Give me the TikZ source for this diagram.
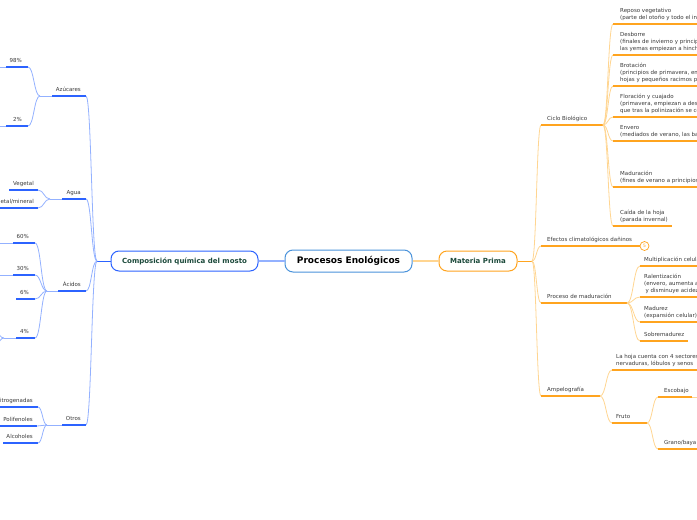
\documentclass[tikz,border=0pt]{standalone}
\usepackage{fontspec}
\setmainfont{DejaVu Sans}
\usetikzlibrary{calc}
\definecolor{bdark}{HTML}{2C63FF}
\definecolor{blight}{HTML}{93B1FF}
\definecolor{odark}{HTML}{FFA41F}
\definecolor{olight}{HTML}{FFD591}
\definecolor{txtgray}{HTML}{3A3A3A}
\definecolor{dgreen}{HTML}{1C4A3B}
\definecolor{cblue}{HTML}{4A93DB}
\begin{document}
\begin{tikzpicture}[x=1pt,y=-1pt,
  conn/.style={to path={.. controls ($(\tikztostart)!0.5!(\tikztotarget |- \tikztostart)$) and ($(\tikztotarget)!0.5!(\tikztostart |- \tikztotarget)$) .. (\tikztotarget)}},
  bl/.style={blight,line width=0.8pt},
  bu/.style={bdark,line width=1.7pt},
  ol/.style={olight,line width=0.8pt},
  ou/.style={odark,line width=1.7pt},
  lt/.style={font=\fontsize{5.5}{7}\selectfont, text=txtgray, inner sep=0pt, align=right, anchor=south east, yshift=2.4pt},
  rt/.style={font=\fontsize{5.5}{7}\selectfont, text=txtgray, inner sep=0pt, align=left, anchor=south west, yshift=2.4pt},
  mainbox/.style={rounded corners=8pt, line width=1pt, fill=white, inner sep=0pt, text=dgreen, font=\fontsize{7}{8}\selectfont\bfseries}
]
\path[use as bounding box] (0,0) rectangle (697,520);
\clip (0,0) rectangle (697,520);

% ---------- central nodes ----------
\node[mainbox, draw=cblue, text=black, minimum width=127pt, minimum height=22pt, font=\fontsize{9}{11}\selectfont\bfseries] (center) at (348.5,261) {Procesos Enológicos};
\node[mainbox, draw=bdark, minimum width=147pt, minimum height=20pt] (comp) at (184.5,261) {Composición química del mosto};
\node[mainbox, draw=odark, minimum width=78pt, minimum height=20pt] (mat) at (478,261) {Materia Prima};
\draw[blight, line width=1.2pt] (comp.east) -- (center.west);
\draw[olight, line width=1.2pt] (center.east) -- (mat.west);

% ---------- left side ----------
\coordinate (Lhub) at (97,261);
\draw[bdark, line width=1pt] (comp.west) -- (Lhub);

% Azúcares
\coordinate (azL) at (40,96); \coordinate (azM) at (52,96); \coordinate (azR) at (86,96);
\draw[bl] (Lhub) to[conn] (azR);
\draw[bl] (azL) -- (azM); \draw[bu] (azM) -- (azR);
\node[lt] (tAz) at (81,96) {Azúcares\strut};
\coordinate (p98L) at (0,67); \coordinate (p98M) at (6,67); \coordinate (p98R) at (28,67);
\draw[bl] (p98L) -- (p98M); \draw[bu] (p98M) -- (p98R);
\draw[bl] (azL) to[conn] (p98R);
\node[lt] (t98) at (22,67) {98\%\strut};
\coordinate (p2L) at (0,126); \coordinate (p2M) at (6,126); \coordinate (p2R) at (28,126);
\draw[bl] (p2L) -- (p2M); \draw[bu] (p2M) -- (p2R);
\draw[bl] (azL) to[conn] (p2R);
\node[lt] (t2) at (22,126) {2\%\strut};

% Agua
\coordinate (agL) at (50,199); \coordinate (agM) at (62,199); \coordinate (agR) at (86,199);
\draw[bl] (Lhub) to[conn] (agR);
\draw[bl] (agL) -- (agM); \draw[bu] (agM) -- (agR);
\node[lt] (tAg) at (81,199) {Agua\strut};
\coordinate (vgL) at (9,190); \coordinate (vgR) at (38,190);
\draw[bu] (vgL) -- (vgR); \draw[bl] (agL) to[conn] (vgR);
\node[lt] (tVg) at (34,190) {Vegetal\strut};
\coordinate (vmL) at (0,208); \coordinate (vmR) at (38,208);
\draw[bu] (vmL) -- (vmR); \draw[bl] (agL) to[conn] (vmR);
\node[lt] (tVm) at (34,208) {Vegetal/mineral\strut};

% Ácidos
\coordinate (acL) at (47,291); \coordinate (acM) at (58,291); \coordinate (acR) at (86,291);
\draw[bl] (Lhub) to[conn] (acR);
\draw[bl] (acL) -- (acM); \draw[bu] (acM) -- (acR);
\node[lt] (tAc) at (81,291) {Ácidos\strut};
\coordinate (p60L) at (0,243); \coordinate (p60M) at (13,243); \coordinate (p60R) at (35,243);
\draw[bl] (p60L) -- (p60M); \draw[bu] (p60M) -- (p60R); \draw[bl] (acL) to[conn] (p60R);
\node[lt] (t60) at (29,243) {60\%\strut};
\coordinate (p30L) at (0,275); \coordinate (p30M) at (13,275); \coordinate (p30R) at (35,275);
\draw[bl] (p30L) -- (p30M); \draw[bu] (p30M) -- (p30R); \draw[bl] (acL) to[conn] (p30R);
\node[lt] (t30) at (29,275) {30\%\strut};
\coordinate (p6L) at (16,299); \coordinate (p6R) at (35,299);
\draw[bu] (p6L) -- (p6R); \draw[bl] (acL) to[conn] (p6R);
\node[lt] (t6) at (29,299) {6\%\strut};
\coordinate (p4H) at (4,338); \coordinate (p4L) at (16,338); \coordinate (p4R) at (35,338);
\draw[bl] (p4H) -- (p4L); \draw[bu] (p4L) -- (p4R); \draw[bl] (acL) to[conn] (p4R);
\node[lt] (t4) at (29,338) {4\%\strut};
\coordinate (p4a) at (-10,322); \coordinate (p4b) at (-10,356);
\draw[bl] (p4H) to[conn] (p4a); \draw[bl] (p4H) to[conn] (p4b);

% Otros
\coordinate (otL) at (47,425); \coordinate (otM) at (62,425); \coordinate (otR) at (86,425);
\draw[bl] (Lhub) to[conn] (otR);
\draw[bl] (otL) -- (otM); \draw[bu] (otM) -- (otR);
\node[lt] (tOt) at (81,425) {Otros\strut};
\coordinate (niL) at (0,407); \coordinate (niR) at (38,407);
\draw[bu] (niL) -- (niR); \draw[bl] (otL) to[conn] (niR);
\node[lt] (tNi) at (33,407) {Nitrogenadas\strut};
\coordinate (poL) at (0,426); \coordinate (poR) at (37,426);
\draw[bu] (poL) -- (poR); \draw[bl] (otL) to[conn] (poR);
\node[lt] (tPo) at (33,426) {Polifenoles\strut};
\coordinate (alL) at (3,443); \coordinate (alR) at (38,443);
\draw[bu] (alL) -- (alR); \draw[bl] (otL) to[conn] (alR);
\node[lt] (tAl) at (33,443) {Alcoholes\strut};

% ---------- right side ----------
\coordinate (Rhub) at (532,261);
\draw[odark, line width=1pt] (mat.east) -- (Rhub);

% Ciclo Biológico
\coordinate (ciL) at (541,125); \coordinate (ciR) at (603,125);
\draw[ol] (Rhub) to[conn] (ciL); \draw[ou] (ciL) -- (ciR);
\node[rt] (tCi) at (547,125) {Ciclo Biológico\strut};
\coordinate (c1L) at (613,24); \coordinate (c1R) at (700,24);
\draw[ol] (ciR) to[conn] (c1L); \draw[ou] (c1L) -- (c1R);
\node[rt] (tC1) at (620,24) {Reposo vegetativo\\(parte del otoño y todo el invierno)\strut};
\coordinate (c2L) at (613,55); \coordinate (c2R) at (700,55);
\draw[ol] (ciR) to[conn] (c2L); \draw[ou] (c2L) -- (c2R);
\node[rt] (tC2) at (620,55) {Desborre\\(finales de invierno y principios de primavera,\\las yemas empiezan a hincharse)\strut};
\coordinate (c3L) at (613,86); \coordinate (c3R) at (700,86);
\draw[ol] (ciR) to[conn] (c3L); \draw[ou] (c3L) -- (c3R);
\node[rt] (tC3) at (620,86) {Brotación\\(principios de primavera, empiezan a salir\\hojas y pequeños racimos provistos de flores)\strut};
\coordinate (c4L) at (613,117); \coordinate (c4R) at (700,117);
\draw[ol] (ciR) to[conn] (c4L); \draw[ou] (c4L) -- (c4R);
\node[rt] (tC4) at (620,117) {Floración y cuajado\\(primavera, empiezan a desarrollarse las flores\\que tras la polinización se convierten en frutos)\strut};
\coordinate (c5L) at (613,141); \coordinate (c5R) at (700,141);
\draw[ol] (ciR) to[conn] (c5L); \draw[ou] (c5L) -- (c5R);
\node[rt] (tC5) at (620,141) {Envero\\(mediados de verano, las bayas cambian de color)\strut};
\coordinate (c6L) at (613,187); \coordinate (c6R) at (700,187);
\draw[ol] (ciR) to[conn] (c6L); \draw[ou] (c6L) -- (c6R);
\node[rt] (tC6) at (620,187) {Maduración\\(fines de verano a principios de otoño)\strut};
\coordinate (c7L) at (613,226); \coordinate (c7R) at (672,226);
\draw[ol] (ciR) to[conn] (c7L); \draw[ou] (c7L) -- (c7R);
\node[rt] (tC7) at (620,226) {Caída de la hoja\\(parada invernal)\strut};

% Efectos climatológicos
\coordinate (efL) at (541,246); \coordinate (efR) at (640,246);
\draw[ol] (Rhub) to[conn] (efL); \draw[ou] (efL) -- (efR);
\node[rt] (tEf) at (547,246) {Efectos climatológicos dañinos\strut};
\node[circle, draw=odark, fill=white, line width=0.7pt, minimum size=9pt, inner sep=0pt, text=odark, font=\fontsize{4.5}{5}\selectfont] (efC) at (644.5,246) {5};

% Proceso de maduración
\coordinate (prL) at (541,303); \coordinate (prR) at (627,303);
\draw[ol] (Rhub) to[conn] (prL); \draw[ou] (prL) -- (prR);
\node[rt] (tPr) at (547,303) {Proceso de maduración\strut};
\coordinate (m1L) at (640,266); \coordinate (m1R) at (700,266);
\draw[ol] (prR) to[conn] (m1L); \draw[ou] (m1L) -- (m1R);
\node[rt] (tM1) at (644,266) {Multiplicación celular\strut};
\coordinate (m2L) at (640,297); \coordinate (m2R) at (700,297);
\draw[ol] (prR) to[conn] (m2L); \draw[ou] (m2L) -- (m2R);
\node[rt] (tM2) at (644,297) {Ralentización\\(envero, aumenta azúcares\\\hspace*{1.5pt}y disminuye acidez)\strut};
\coordinate (m3L) at (640,322); \coordinate (m3R) at (700,322);
\draw[ol] (prR) to[conn] (m3L); \draw[ou] (m3L) -- (m3R);
\node[rt] (tM3) at (644,322) {Madurez\\(expansión celular)\strut};
\coordinate (m4L) at (640,341); \coordinate (m4R) at (688,341);
\draw[ol] (prR) to[conn] (m4L); \draw[ou] (m4L) -- (m4R);
\node[rt] (tM4) at (644,341) {Sobremadurez\strut};

% Ampelografía
\coordinate (amL) at (541,396); \coordinate (amR) at (600,396);
\draw[ol] (Rhub) to[conn] (amL); \draw[ou] (amL) -- (amR);
\node[rt] (tAm) at (547,396) {Ampelografía\strut};
\coordinate (hoL) at (612,370); \coordinate (hoR) at (700,370);
\draw[ol] (amR) to[conn] (hoL); \draw[ou] (hoL) -- (hoR);
\node[rt] (tHo) at (616,370) {La hoja cuenta con 4 sectores: peciolo,\\nervaduras, lóbulos y senos\strut};
\coordinate (frL) at (612,423); \coordinate (frR) at (647,423);
\draw[ol] (amR) to[conn] (frL); \draw[ou] (frL) -- (frR);
\node[rt] (tFr) at (616,423) {Fruto\strut};
\coordinate (esL) at (658,397); \coordinate (esR) at (692,397); \coordinate (esX) at (700,397);
\draw[ol] (frR) to[conn] (esL); \draw[ou] (esL) -- (esR); \draw[ol] (esR) -- (esX);
\node[rt] (tEs) at (664,397) {Escobajo\strut};
\coordinate (grL) at (658,449); \coordinate (grR) at (700,449);
\draw[ol] (frR) to[conn] (grL); \draw[ou] (grL) -- (grR);
\node[rt] (tGr) at (664,449) {Grano/baya\strut};
\end{tikzpicture}
\end{document}
